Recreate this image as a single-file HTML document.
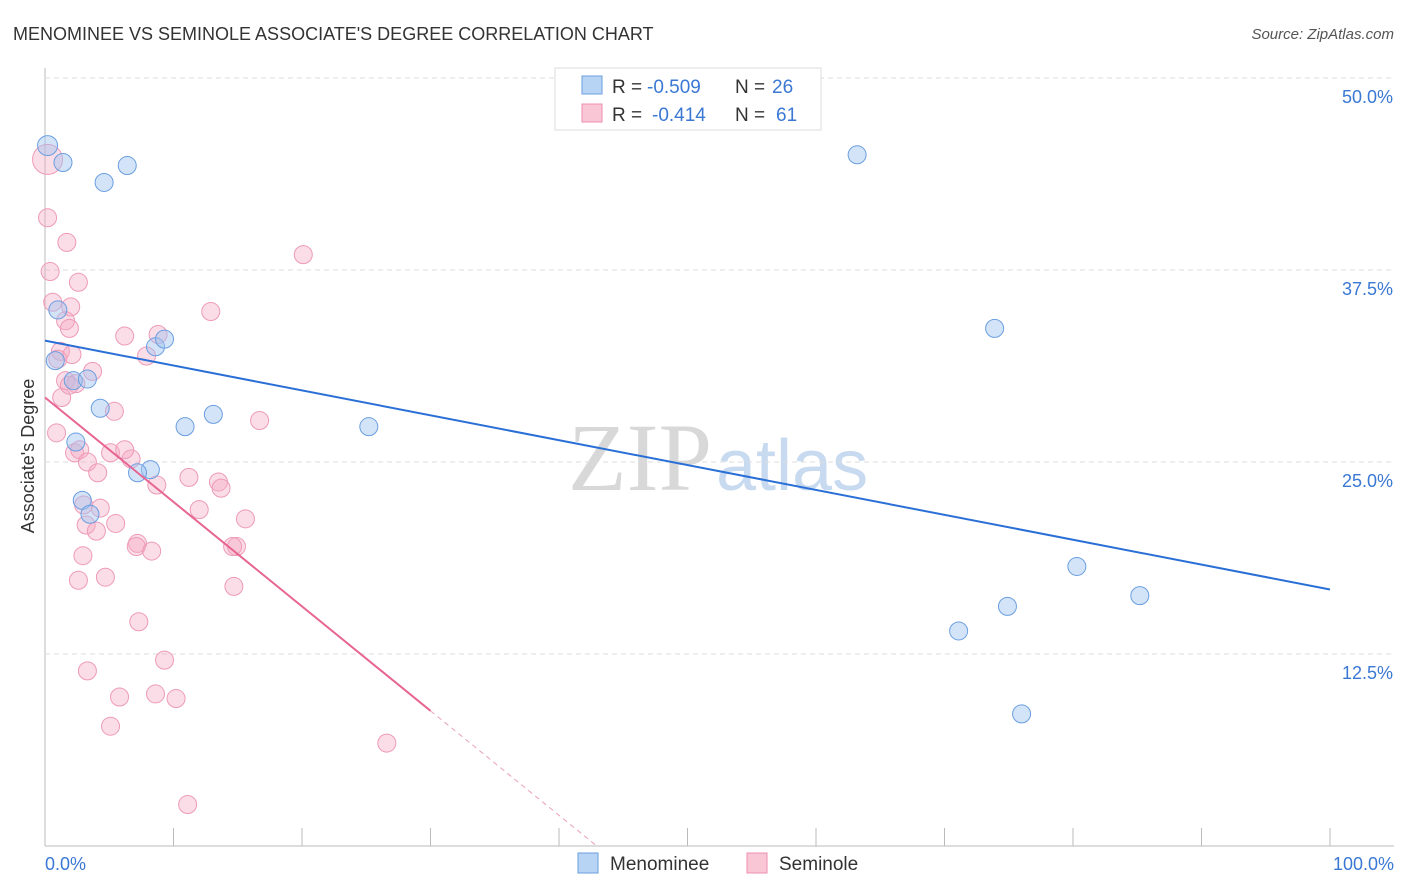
<!DOCTYPE html>
<html><head><meta charset="utf-8"><style>
body{margin:0;background:#fff;font-family:"Liberation Sans",sans-serif;}
svg{display:block}
</style></head><body>
<svg id="chart" width="1406" height="892">
<text x="13" y="40" font-size="18" fill="#333">MENOMINEE VS SEMINOLE ASSOCIATE'S DEGREE CORRELATION CHART</text>
<text x="1394" y="39" font-size="15" fill="#555" font-style="italic" text-anchor="end">Source: ZipAtlas.com</text>
<text x="34" y="456" font-size="18" fill="#333" text-anchor="middle" transform="rotate(-90 34 456)">Associate's Degree</text>
<text x="712" y="490" font-size="96" fill="#d8d8d8" text-anchor="end" font-family="Liberation Serif">ZIP</text>
<text x="716" y="490" font-size="72" fill="#c8daf0">atlas</text>
<g id="grid"></g><g id="pts"></g><g id="lines"></g>
<g>
<rect x="555" y="68" width="266" height="62" fill="#fff" stroke="#ddd"/>
<rect x="582" y="76" width="20" height="18" fill="#b8d4f5" stroke="#6a9ee0"/>
<rect x="582" y="104" width="20" height="18" fill="#f9c6d6" stroke="#ee8fb0"/>
<text x="612" y="93" font-size="19" fill="#333">R =</text>
<text x="647" y="93" font-size="19" fill="#3a78d4">-0.509</text>
<text x="735" y="93" font-size="19" fill="#333">N =</text>
<text x="772" y="93" font-size="19" fill="#3a78d4">26</text>
<text x="612" y="121" font-size="19" fill="#333">R =</text>
<text x="652" y="121" font-size="19" fill="#3a78d4">-0.414</text>
<text x="735" y="121" font-size="19" fill="#333">N =</text>
<text x="776" y="121" font-size="19" fill="#3a78d4">61</text>
</g>
<g>
<rect x="578" y="853" width="20" height="20" fill="#b8d4f5" stroke="#6a9ee0"/>
<text x="610" y="870" font-size="19" fill="#333">Menominee</text>
<rect x="747" y="853" width="20" height="20" fill="#f9c6d6" stroke="#ee8fb0"/>
<text x="779" y="870" font-size="19" fill="#333">Seminole</text>
</g>
</svg>
<script>
const yTicks=[12.5,25,37.5,50];
const yTickLabels=["12.5%","25.0%","37.5%","50.0%"];
const xTickLabels=["0.0%","100.0%"];
const blueX=[0.2,1.4,4.6,6.4,63.2,1.0,8.6,9.3,0.8,2.2,3.3,4.3,10.9,13.1,25.2,2.4,8.2,7.2,2.9,3.5,80.3,85.2,74.9,71.1,73.9,76.0];
const blueY=[45.6,44.5,43.2,44.3,45.0,34.9,32.5,33.0,31.6,30.3,30.4,28.5,27.3,28.1,27.3,26.3,24.5,24.3,22.5,21.6,18.2,16.3,15.6,14.0,33.7,8.6];
const pinkX=[0.2,0.2,1.7,0.4,20.1,2.6,0.6,2.0,1.6,1.9,12.9,6.2,8.8,7.9,1.2,1.0,2.1,3.7,1.6,2.4,1.3,5.4,16.7,0.9,2.3,2.7,5.1,6.7,3.3,4.1,11.2,8.7,13.5,13.7,3.0,4.3,12.0,15.6,3.2,5.5,4.0,7.2,7.1,8.3,14.9,14.6,2.95,2.6,4.7,14.7,7.3,9.3,3.3,5.8,8.6,10.2,5.1,26.6,11.1,1.9,6.2];
const pinkY=[44.7,40.9,39.3,37.4,38.5,36.7,35.4,35.1,34.2,33.7,34.8,33.2,33.3,31.9,32.2,31.7,32.0,30.9,30.3,30.1,29.2,28.3,27.7,26.9,25.6,25.8,25.6,25.2,25.0,24.3,24.0,23.5,23.7,23.3,22.2,22.0,21.9,21.3,20.9,21.0,20.5,19.7,19.5,19.2,19.5,19.5,18.9,17.3,17.5,16.9,14.6,12.1,11.4,9.7,9.9,9.6,7.8,6.7,2.7,30.0,25.8];
const blueLine=[32.9,16.7];
const pinkLine=[29.2,8.8];
const pinkEnd=30;
const X=v=>45+v*12.85, Y=v=>846-v*15.36;
const NS="http://www.w3.org/2000/svg";
function mk(p,t,a){const e=document.createElementNS(NS,t);for(const k in a)e.setAttribute(k,a[k]);p.appendChild(e);return e;}
const grid=document.getElementById('grid');
let ax=mk(grid,'line',{x1:45,y1:68,x2:45,y2:846,stroke:'#bbb'});


let bx=mk(grid,'line',{x1:45,y1:846,x2:1394,y2:846,stroke:'#bbb'});


for(let i=1;i<=10;i++){mk(grid,'line',{x1:45+i*128.5,y1:828,x2:45+i*128.5,y2:846,stroke:'#bbb'});}
yTicks.forEach((t,i)=>{
 const g=mk(grid,'line',{x1:45,y1:Y(t),x2:1394,y2:Y(t),stroke:'#ddd','stroke-dasharray':'5,4'});
 
 
 const l=mk(grid,'text',{x:1393,y:Y(t)+25,'font-size':18,fill:'#3a78d4','text-anchor':'end'});
 l.textContent=yTickLabels[i];
 
 
});
[[0,'start',45],[1,'end',1394]].forEach(([i,a,x])=>{
 const l=mk(grid,'text',{x:x,y:870,'font-size':18,fill:'#3a78d4','text-anchor':a});
 l.textContent=xTickLabels[i];
 
 
});
const pts=document.getElementById('pts');
pinkX.forEach((x,i)=>{const c=mk(pts,'circle',{cx:X(x),cy:Y(pinkY[i]),r:i==0?15:9,fill:'rgba(246,170,195,0.4)',stroke:'#ee9ab8','stroke-width':1});
 
 });
blueX.forEach((x,i)=>{const c=mk(pts,'circle',{cx:X(x),cy:Y(blueY[i]),r:i==0?10:9,fill:'rgba(160,195,240,0.45)',stroke:'#6a9ee0','stroke-width':1});
 
 });
const lines=document.getElementById('lines');
let bl=mk(lines,'line',{x1:X(0),y1:Y(blueLine[0]),x2:X(100),y2:Y(blueLine[1]),stroke:'#2a6fd6','stroke-width':2});


const ps=(pinkLine[1]-pinkLine[0])/pinkEnd;
let pl=mk(lines,'line',{x1:X(0),y1:Y(pinkLine[0]),x2:X(pinkEnd),y2:Y(pinkLine[1]),stroke:'#e76593','stroke-width':2});


const xz=-pinkLine[0]/ps;
let pd=mk(lines,'line',{x1:X(pinkEnd),y1:Y(pinkLine[1]),x2:X(xz),y2:Y(0),stroke:'#e9a0b8','stroke-width':1,'stroke-dasharray':'5,4'});


</script>
</body></html>
